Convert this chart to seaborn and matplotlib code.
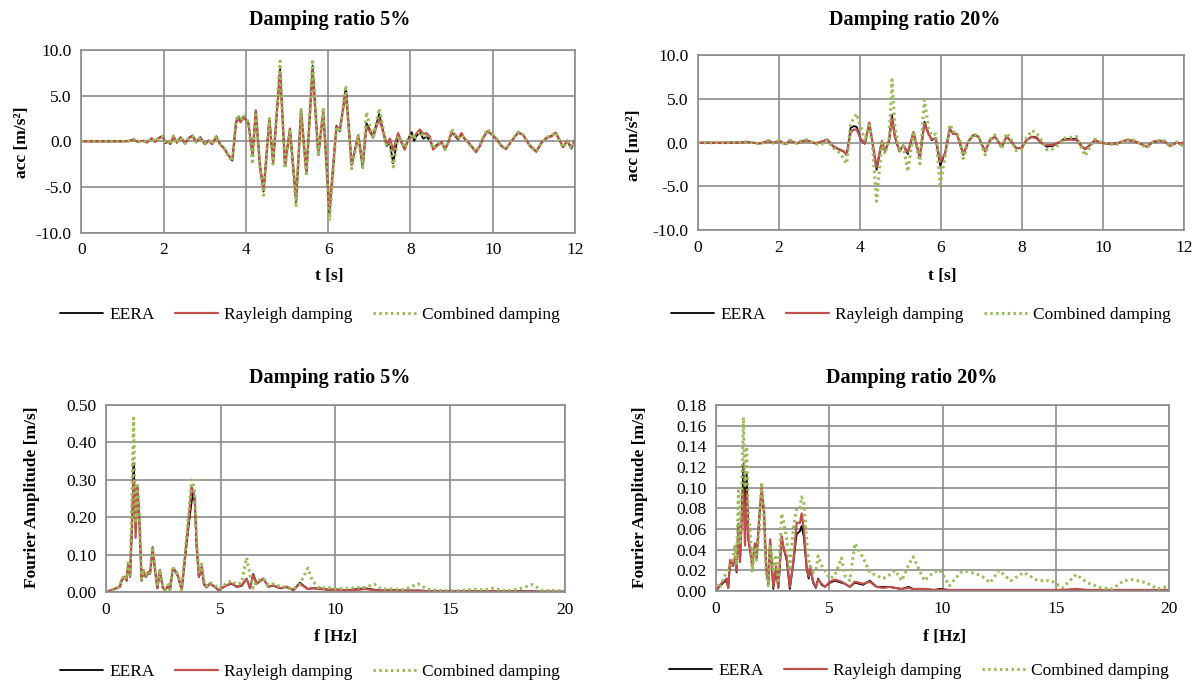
import numpy as np
import pandas as pd
import matplotlib
matplotlib.use("Agg")
import matplotlib.pyplot as plt
from matplotlib.lines import Line2D
from matplotlib.ticker import FuncFormatter, MultipleLocator
import seaborn as sns

# ---------------------------------------------------------------------------
# Acceleration time histories, damping ratio 5 %  (t in s, acc in m/s^2)
# ---------------------------------------------------------------------------
t_05 = [0.0, 0.5, 1.0, 1.15, 1.26, 1.38, 1.5, 1.59, 1.71, 1.79, 1.87, 1.97, 2.05, 2.11,
        2.16, 2.24, 2.32, 2.41, 2.52, 2.62, 2.7, 2.79, 2.89, 3.0, 3.1, 3.18, 3.28, 3.37,
        3.48, 3.57, 3.67, 3.76, 3.81, 3.87, 3.94, 4.06, 4.16, 4.24, 4.34, 4.43, 4.57,
        4.66, 4.83, 4.95, 5.07, 5.22, 5.34, 5.47, 5.62, 5.76, 5.88, 6.03, 6.2, 6.28,
        6.43, 6.57, 6.73, 6.84, 6.93, 7.09, 7.24, 7.42, 7.5, 7.58, 7.7, 7.78, 7.86,
        7.95, 8.03, 8.09, 8.15, 8.23, 8.31, 8.39, 8.47, 8.55, 8.67, 8.76, 8.84, 8.92,
        9.0, 9.08, 9.16, 9.24, 9.32, 9.44, 9.59, 9.69, 9.77, 9.87, 9.97, 10.09, 10.21,
        10.32, 10.46, 10.62, 10.74, 10.9, 11.06, 11.19, 11.31, 11.43, 11.53, 11.63,
        11.71, 11.81, 11.91, 12.0]
eera_05 = [0, 0, 0, 0.02, 0.2, -0.05, 0.07, -0.11, 0.33, -0.04, 0.33, 0.6, -0.2, 0.0,
           -0.3, 0.55, -0.15, 0.45, -0.2, 0.4, 0.65, -0.05, 0.45, -0.3, 0.1, -0.3, 0.55,
           -0.3, -0.85, -1.5, -2.1, 2.1, 2.7, 2.2, 2.7, 2.0, -1.5, 3.3, -2.7, -5.5, 2.4,
           -2.4, 7.9, -2.7, 1.3, -6.7, 3.5, -3.6, 8.3, -1.5, 3.2, -8.0, 1.7, 1.1, 5.9,
           -2.5, 0.6, -2.9, 2.0, 0.55, 3.0, -0.5, -0.2, -2.4, 0.7, -0.1, -0.8, 0.3, 1.0,
           0.05, 0.6, 1.0, 0.3, 0.5, 0.1, -0.7, -0.3, -0.1, -0.85, -0.1, 1.0, 0.6, 0.2,
           0.8, 0.25, -0.3, -1.1, -0.5, 0.4, 1.1, 0.8, 0.25, -0.5, -0.85, 0.05, 1.0, 0.7,
           -0.45, -1.1, -0.1, 0.4, 0.6, 0.95, 0.05, -0.65, 0.05, -0.8, 0.1]
rayl_05 = [0, 0, 0, 0.02, 0.18, -0.05, 0.06, -0.12, 0.3, -0.05, 0.3, 0.5, -0.15, 0.0,
           -0.25, 0.5, -0.1, 0.4, -0.18, 0.4, 0.5, -0.05, 0.4, -0.3, 0.05, -0.3, 0.5,
           -0.3, -0.8, -1.5, -2.0, 2.0, 2.5, 2.1, 2.6, 2.0, -1.4, 3.4, -2.6, -5.3, 2.5,
           -2.3, 7.6, -2.6, 1.4, -6.3, 3.3, -3.5, 7.7, -1.5, 3.3, -7.5, 1.6, 1.2, 5.3,
           -2.6, 0.7, -2.5, 1.7, 0.4, 2.5, -0.4, 0.3, -1.0, 0.9, -0.1, -0.9, 0.2, 0.5,
           0.4, 0.9, 1.3, 0.8, 0.9, 0.5, -0.9, -0.4, -0.1, -0.9, -0.1, 0.9, 0.8, 0.3,
           0.9, 0.3, -0.3, -1.2, -0.5, 0.4, 1.1, 0.8, 0.25, -0.5, -0.85, 0.05, 0.95, 0.7,
           -0.5, -1.15, -0.15, 0.35, 0.55, 0.95, 0.1, -0.6, 0.1, -0.7, 0.2]
comb_05 = [0, 0, 0, 0.03, 0.25, -0.05, 0.08, -0.15, 0.35, -0.05, 0.35, 0.55, -0.2, 0.0,
           -0.35, 0.6, -0.2, 0.45, -0.25, 0.45, 0.55, -0.1, 0.45, -0.35, 0.1, -0.35, 0.6,
           -0.35, -0.85, -1.6, -2.2, 2.3, 2.9, 2.3, 2.9, 2.1, -2.5, 3.2, -3.0, -5.9, 2.5,
           -2.5, 8.8, -3.0, 1.3, -7.2, 3.6, -3.8, 9.0, -1.6, 3.7, -8.7, 1.6, 1.0, 6.1,
           -3.0, 0.6, -2.8, 3.2, 0.3, 3.6, -0.5, -0.3, -2.8, 0.6, 0.0, -0.7, 0.4, 0.9,
           0.2, 0.7, 1.1, 0.5, 0.6, 0.2, -0.8, -0.2, -0.1, -0.9, -0.1, 1.4, 0.7, 0.3,
           0.7, 0.3, -0.4, -1.1, -0.5, 0.5, 1.3, 0.9, 0.3, -0.5, -0.85, 0.1, 1.05, 0.7,
           -0.45, -1.1, -0.1, 0.45, 0.65, 1.0, 0.05, -0.7, 0.0, -0.8, 0.0]

# ---------------------------------------------------------------------------
# Acceleration time histories, damping ratio 20 %
# ---------------------------------------------------------------------------
t_20 = [0.0, 0.6, 1.04, 1.2, 1.35, 1.53, 1.74, 1.86, 2.02, 2.15, 2.27, 2.44, 2.55, 2.68,
        2.89, 3.01, 3.19, 3.34, 3.51, 3.6, 3.67, 3.77, 3.85, 3.92, 4.02, 4.12, 4.23,
        4.31, 4.41, 4.54, 4.62, 4.72, 4.79, 4.86, 4.97, 5.07, 5.18, 5.32, 5.4, 5.48,
        5.59, 5.69, 5.77, 5.87, 5.98, 6.1, 6.22, 6.3, 6.39, 6.47, 6.55, 6.67, 6.8, 6.92,
        7.09, 7.21, 7.33, 7.5, 7.62, 7.74, 7.85, 7.99, 8.11, 8.24, 8.36, 8.48, 8.61,
        8.77, 8.94, 9.02, 9.18, 9.35, 9.47, 9.56, 9.68, 9.8, 9.93, 10.17, 10.34, 10.58,
        10.75, 10.91, 11.08, 11.24, 11.41, 11.53, 11.65, 11.82, 11.94, 12.0]
eera_20 = [0, 0, 0.02, 0.1, 0.0, -0.08, 0.2, 0.0, 0.2, -0.15, 0.2, -0.08, 0.15, 0.3,
           -0.08, 0.04, 0.38, -0.45, -0.84, -1.0, -1.4, 1.7, 1.9, 1.8, 0.3, -0.1, 2.2,
           -0.1, -3.1, 0.1, -1.0, 0.3, 3.2, 0.7, -1.0, -0.3, -1.3, 1.2, -0.3, -1.8, 2.4,
           1.1, 0.3, 0.5, -2.6, -1.2, 1.6, 1.0, 1.0, -0.1, -1.4, 0.1, 0.9, 0.7, -1.0,
           0.3, 0.7, -0.5, 0.7, 0.1, -0.6, -0.6, 0.3, 0.7, 0.6, 0.0, -0.45, -0.35, 0.1,
           0.4, 0.45, 0.4, -0.4, -0.75, -0.3, 0.3, 0.0, -0.15, -0.1, 0.3, 0.2, -0.1,
           -0.45, 0.1, 0.2, 0.1, -0.35, 0.0, -0.15, 0.1]
rayl_20 = [0, 0, 0.02, 0.08, 0.0, -0.08, 0.18, 0.0, 0.18, -0.12, 0.2, -0.08, 0.1, 0.25,
           -0.05, 0.04, 0.35, -0.4, -0.8, -1.0, -1.4, 1.2, 1.5, 1.5, 0.4, -0.1, 2.3, 0.0,
           -2.8, 0.2, -0.9, 0.3, 2.8, 0.7, -0.9, -0.3, -1.1, 1.2, -0.3, -1.6, 2.2, 1.0,
           0.4, 0.5, -2.2, -1.2, 1.6, 1.0, 1.0, -0.1, -1.3, 0.1, 0.85, 0.7, -1.0, 0.3,
           0.7, -0.45, 0.7, 0.1, -0.6, -0.65, 0.3, 0.65, 0.5, -0.07, -0.3, -0.25, 0.1,
           0.3, 0.35, 0.3, -0.45, -0.7, -0.25, 0.3, 0.0, -0.15, -0.07, 0.3, 0.23, -0.07,
           -0.46, 0.12, 0.23, 0.12, -0.38, 0.0, -0.15, 0.1]
comb_20 = [0, 0, 0.03, 0.1, 0.0, -0.15, 0.25, -0.05, 0.3, -0.35, 0.3, -0.1, 0.2, 0.35,
           -0.1, -0.3, 0.3, -0.6, -1.2, -1.9, -2.4, 2.2, 2.8, 3.3, 1.8, 0.2, 2.3, -0.5,
           -6.7, 0.0, -1.3, 0.5, 7.2, 2.0, -1.1, -0.4, -3.3, 1.3, -0.6, -2.4, 4.9, 1.7,
           0.8, 1.0, -4.8, -1.6, 2.1, 1.3, 1.1, 0.2, -1.8, 0.0, 1.0, 0.8, -1.4, 0.4, 0.9,
           -0.7, 1.1, 0.3, -0.9, -0.8, 0.5, 1.4, 1.1, 0.3, -0.8, -0.7, -0.1, 0.5, 0.6,
           0.7, -0.6, -1.5, -0.5, 0.4, 0.1, -0.2, -0.2, 0.35, 0.3, -0.1, -0.6, 0.1, 0.3,
           0.2, -0.45, 0.1, -0.3, 0.05]

# ---------------------------------------------------------------------------
# Fourier amplitude spectra, damping ratio 5 %  (f in Hz, amplitude in m/s)
# ---------------------------------------------------------------------------
f_05 = [0.0, 0.32, 0.61, 0.68, 0.83, 0.9, 0.97, 1.05, 1.15, 1.2, 1.25, 1.29, 1.37, 1.45,
        1.55, 1.63, 1.73, 1.85, 1.92, 2.03, 2.14, 2.24, 2.35, 2.47, 2.57, 2.72, 2.79,
        2.91, 3.01, 3.15, 3.3, 3.44, 3.59, 3.73, 3.8, 3.87, 3.95, 4.05, 4.17, 4.27,
        4.39, 4.53, 4.75, 4.9, 5.04, 5.26, 5.48, 5.7, 5.91, 6.13, 6.28, 6.42, 6.57,
        6.86, 7.08, 7.29, 7.59, 7.88, 8.17, 8.45, 8.8, 9.0, 9.3, 9.7, 10.0, 10.5, 11.0,
        11.3, 11.7, 12.0, 12.5, 13.0, 13.6, 14.0, 14.5, 15.0, 15.5, 16.0, 16.5, 16.8,
        17.5, 18.0, 18.6, 19.0, 19.5, 20.0]
fa_eera_05 = [0, 0.007, 0.014, 0.03, 0.041, 0.03, 0.075, 0.04, 0.2, 0.345, 0.27, 0.17,
              0.28, 0.2, 0.03, 0.055, 0.04, 0.05, 0.048, 0.115, 0.055, 0.01, 0.058, 0.012,
              0.004, 0.016, 0.004, 0.06, 0.057, 0.04, 0.004, 0.085, 0.17, 0.24, 0.265,
              0.24, 0.12, 0.04, 0.065, 0.02, 0.012, 0.022, 0.013, 0.005, 0.01, 0.018,
              0.022, 0.014, 0.016, 0.035, 0.01, 0.048, 0.022, 0.035, 0.014, 0.017, 0.01,
              0.013, 0.005, 0.025, 0.008, 0.01, 0.01, 0.006, 0.007, 0.005, 0.008, 0.01,
              0.006, 0.004, 0.005, 0.004, 0.004, 0.003, 0.003, 0.002, 0.002, 0.003, 0.002,
              0.002, 0.002, 0.002, 0.002, 0.001, 0.001, 0.001]
fa_rayl_05 = [0, 0.007, 0.014, 0.032, 0.041, 0.032, 0.077, 0.041, 0.21, 0.3, 0.25, 0.145,
              0.28, 0.2, 0.032, 0.059, 0.041, 0.054, 0.05, 0.12, 0.059, 0.01, 0.059, 0.014,
              0.005, 0.018, 0.005, 0.063, 0.059, 0.041, 0.005, 0.094, 0.184, 0.28, 0.27,
              0.25, 0.13, 0.041, 0.068, 0.023, 0.014, 0.023, 0.014, 0.005, 0.01, 0.018,
              0.023, 0.014, 0.018, 0.036, 0.01, 0.045, 0.023, 0.036, 0.014, 0.018, 0.01,
              0.014, 0.005, 0.022, 0.008, 0.01, 0.008, 0.006, 0.006, 0.004, 0.006, 0.008,
              0.005, 0.003, 0.004, 0.003, 0.003, 0.002, 0.002, 0.002, 0.002, 0.002, 0.002,
              0.002, 0.002, 0.001, 0.001, 0.001, 0.001, 0.001]
fa_comb_05 = [0, 0.008, 0.016, 0.035, 0.045, 0.035, 0.085, 0.045, 0.3, 0.465, 0.3, 0.19,
              0.285, 0.21, 0.035, 0.06, 0.045, 0.055, 0.05, 0.12, 0.06, 0.015, 0.06, 0.015,
              0.006, 0.02, 0.006, 0.065, 0.06, 0.045, 0.006, 0.1, 0.2, 0.3, 0.295, 0.26,
              0.14, 0.05, 0.075, 0.03, 0.015, 0.025, 0.018, 0.008, 0.012, 0.025, 0.03,
              0.02, 0.025, 0.092, 0.045, 0.01, 0.03, 0.035, 0.018, 0.022, 0.015, 0.012,
              0.008, 0.02, 0.064, 0.03, 0.01, 0.012, 0.008, 0.01, 0.012, 0.012, 0.021,
              0.008, 0.008, 0.006, 0.022, 0.008, 0.004, 0.003, 0.004, 0.008, 0.005, 0.01,
              0.003, 0.008, 0.02, 0.004, 0.004, 0.003]

# ---------------------------------------------------------------------------
# Fourier amplitude spectra, damping ratio 20 %
# ---------------------------------------------------------------------------
f_20 = [0.0, 0.18, 0.32, 0.47, 0.54, 0.62, 0.74, 0.84, 0.91, 0.99, 1.06, 1.13, 1.21,
        1.28, 1.35, 1.43, 1.5, 1.6, 1.72, 1.79, 1.91, 2.01, 2.12, 2.21, 2.31, 2.39, 2.46,
        2.53, 2.65, 2.75, 2.9, 3.0, 3.12, 3.26, 3.41, 3.56, 3.71, 3.78, 3.88, 4.0, 4.09,
        4.15, 4.29, 4.41, 4.51, 4.66, 4.81, 5.03, 5.25, 5.54, 5.69, 5.91, 6.13, 6.5,
        6.79, 7.09, 7.38, 7.68, 7.9, 8.2, 8.5, 8.7, 9.2, 9.6, 9.9, 10.3, 10.8, 11.1,
        11.7, 12.1, 12.5, 13.0, 13.6, 14.2, 14.8, 15.3, 15.9, 16.4, 17.0, 17.5, 18.0,
        18.4, 19.0, 19.5, 20.0]
fa_eera_20 = [0, 0.005, 0.008, 0.01, 0.003, 0.028, 0.024, 0.032, 0.018, 0.065, 0.028,
              0.07, 0.123, 0.06, 0.115, 0.05, 0.04, 0.025, 0.045, 0.032, 0.07, 0.097,
              0.075, 0.025, 0.007, 0.048, 0.025, 0.002, 0.022, 0.003, 0.05, 0.04, 0.03,
              0.002, 0.027, 0.055, 0.058, 0.063, 0.052, 0.022, 0.012, 0.022, 0.008, 0.003,
              0.012, 0.006, 0.004, 0.008, 0.01, 0.008, 0.007, 0.004, 0.008, 0.006, 0.01,
              0.004, 0.004, 0.004, 0.003, 0.002, 0.004, 0.002, 0.002, 0.001, 0.002, 0.001,
              0.001, 0.001, 0.001, 0.001, 0.001, 0.001, 0.001, 0.001, 0.001, 0.001, 0.001,
              0.001, 0.001, 0.001, 0.001, 0.001, 0.001, 0.001, 0.001]
fa_rayl_20 = [0, 0.006, 0.009, 0.012, 0.003, 0.03, 0.025, 0.033, 0.019, 0.065, 0.028,
              0.066, 0.098, 0.044, 0.095, 0.05, 0.04, 0.024, 0.046, 0.033, 0.072, 0.1,
              0.078, 0.027, 0.007, 0.05, 0.027, 0.004, 0.024, 0.004, 0.053, 0.04, 0.033,
              0.004, 0.027, 0.066, 0.066, 0.075, 0.06, 0.024, 0.014, 0.024, 0.009, 0.004,
              0.011, 0.007, 0.004, 0.009, 0.011, 0.009, 0.007, 0.004, 0.009, 0.007, 0.009,
              0.004, 0.003, 0.004, 0.003, 0.002, 0.003, 0.002, 0.002, 0.001, 0.001, 0.001,
              0.001, 0.001, 0.001, 0.001, 0.001, 0.001, 0.001, 0.001, 0.001, 0.001, 0.002,
              0.001, 0.001, 0.001, 0.001, 0.001, 0.001, 0.001, 0.001]
fa_comb_20 = [0.006, 0.003, 0.012, 0.018, 0.02, 0.022, 0.03, 0.045, 0.025, 0.097, 0.045,
              0.09, 0.168, 0.1, 0.14, 0.07, 0.06, 0.018, 0.04, 0.03, 0.06, 0.105, 0.07,
              0.018, 0.005, 0.045, 0.035, 0.02, 0.035, 0.01, 0.075, 0.065, 0.05, 0.02,
              0.06, 0.08, 0.08, 0.091, 0.085, 0.05, 0.03, 0.025, 0.018, 0.02, 0.034, 0.025,
              0.02, 0.012, 0.015, 0.032, 0.015, 0.01, 0.046, 0.032, 0.018, 0.015, 0.012,
              0.016, 0.02, 0.01, 0.025, 0.033, 0.01, 0.018, 0.02, 0.005, 0.018, 0.019,
              0.015, 0.008, 0.02, 0.01, 0.018, 0.01, 0.01, 0.003, 0.016, 0.008, 0.003,
              0.002, 0.01, 0.011, 0.008, 0.002, 0.005]

series_names = ["EERA", "Rayleigh damping", "Combined damping"]
titles = ["Damping ratio 5%", "Damping ratio 20%", "Damping ratio 5%", "Damping ratio 20%"]

# ---------------------------------------------------------------------------
# Styling
# ---------------------------------------------------------------------------
W, H = 1198, 682
sns.set_theme(style="white")
plt.rcParams["font.family"] = ["Liberation Serif", "DejaVu Serif"]
plt.rcParams["text.color"] = "black"
plt.rcParams["axes.labelcolor"] = "black"
plt.rcParams["xtick.color"] = "black"
plt.rcParams["ytick.color"] = "black"

BLACK = "#000000"
RED = "#c0504d"
GREEN = "#9bbb59"
GRID = "#8c8c8c"
TICK_FS = 12.5
LAB_FS = 12.5
TITLE_FS = 14.5

styles = [
    dict(color=BLACK, lw=1.3, ls="-"),
    dict(color=RED, lw=1.6, ls="-"),
    dict(color=GREEN, lw=2.2, ls=(0, (0.8, 1.1))),
]

fig = plt.figure(figsize=(W / 100, H / 100), dpi=100)
fig.patch.set_facecolor("white")


def px_axes(left, right, top, bottom):
    return fig.add_axes([left / W, 1 - bottom / H, (right - left) / W, (bottom - top) / H])


def draw_panel(ax, x, ys, xlim, xstep, ylim, ystep, yfmt):
    for y, name, st in zip(ys, series_names, styles):
        df = pd.DataFrame({"x": x, "y": y})
        sns.lineplot(data=df, x="x", y="y", ax=ax, estimator=None, sort=False,
                     color=st["color"], linewidth=st["lw"], linestyle=st["ls"],
                     legend=False)
    ax.set_xlim(*xlim)
    ax.set_ylim(*ylim)
    ax.xaxis.set_major_locator(MultipleLocator(xstep))
    ax.yaxis.set_major_locator(MultipleLocator(ystep))
    ax.yaxis.set_major_formatter(FuncFormatter(lambda v, p: yfmt.format(v + 0.0)))
    ax.xaxis.set_major_formatter(FuncFormatter(lambda v, p: f"{v:.0f}"))
    ax.grid(True, color=GRID, lw=1.2)
    ax.set_axisbelow(True)
    for sp in ax.spines.values():
        sp.set_visible(True)
        sp.set_color(GRID)
        sp.set_linewidth(1.2)
    ax.tick_params(axis="both", which="major", direction="out", length=4, width=1.0,
                   color=GRID, labelsize=TICK_FS, labelcolor="black", pad=3)
    ax.set_xlabel("")
    ax.set_ylabel("")
    ax.set_facecolor("white")


ax1 = px_axes(81.4, 575, 50, 232.7)
draw_panel(ax1, t_05, [eera_05, rayl_05, comb_05], (0, 12), 2, (-10, 10), 5, "{:.1f}")
ax2 = px_axes(698, 1184, 55.3, 230.1)
draw_panel(ax2, t_20, [eera_20, rayl_20, comb_20], (0, 12), 2, (-10, 10), 5, "{:.1f}")
ax3 = px_axes(106, 564.7, 405, 592)
draw_panel(ax3, f_05, [fa_eera_05, fa_rayl_05, fa_comb_05], (0, 20), 5, (0, 0.5), 0.1, "{:.2f}")
ax4 = px_axes(716, 1169, 405, 591)
draw_panel(ax4, f_20, [fa_eera_20, fa_rayl_20, fa_comb_20], (0, 20), 5, (0, 0.18), 0.02, "{:.2f}")


def ftext(x, y, s, **kw):
    fig.text(x / W, 1 - y / H, s, ha="center", va="center", color="black", **kw)


# titles
ftext(330, 20, titles[0], fontsize=TITLE_FS, fontweight="bold")
ftext(915, 20, titles[1], fontsize=TITLE_FS, fontweight="bold")
ftext(330, 378, titles[2], fontsize=TITLE_FS, fontweight="bold")
ftext(912, 378, titles[3], fontsize=TITLE_FS, fontweight="bold")

# axis labels
ftext(329, 276, "t [s]", fontsize=LAB_FS, fontweight="bold")
ftext(942, 276, "t [s]", fontsize=LAB_FS, fontweight="bold")
ftext(336, 637, "f [Hz]", fontsize=LAB_FS, fontweight="bold")
ftext(945, 637, "f [Hz]", fontsize=LAB_FS, fontweight="bold")
ftext(22, 142, "acc [m/s\u00b2]", fontsize=LAB_FS, fontweight="bold", rotation=90)
ftext(634, 145, "acc [m/s\u00b2]", fontsize=LAB_FS, fontweight="bold", rotation=90)
ftext(32, 497, "Fourier Amplitude [m/s]", fontsize=LAB_FS, fontweight="bold", rotation=90)
ftext(640, 497, "Fourier Amplitude [m/s]", fontsize=LAB_FS, fontweight="bold", rotation=90)

# legends
handles = [Line2D([], [], color=st["color"], lw=st["lw"], ls=st["ls"]) for st in styles]
for cx, cy in [(310, 315), (921, 315), (310, 672), (919, 671)]:
    leg = fig.legend(handles, series_names, loc="center", bbox_to_anchor=(cx / W, 1 - cy / H),
                     ncol=3, frameon=False, fontsize=LAB_FS, handlelength=2.5,
                     handletextpad=0.35, columnspacing=1.15, borderaxespad=0, borderpad=0)
    for txt in leg.get_texts():
        txt.set_color("black")

fig.savefig("out.png", dpi=100, facecolor="white")
